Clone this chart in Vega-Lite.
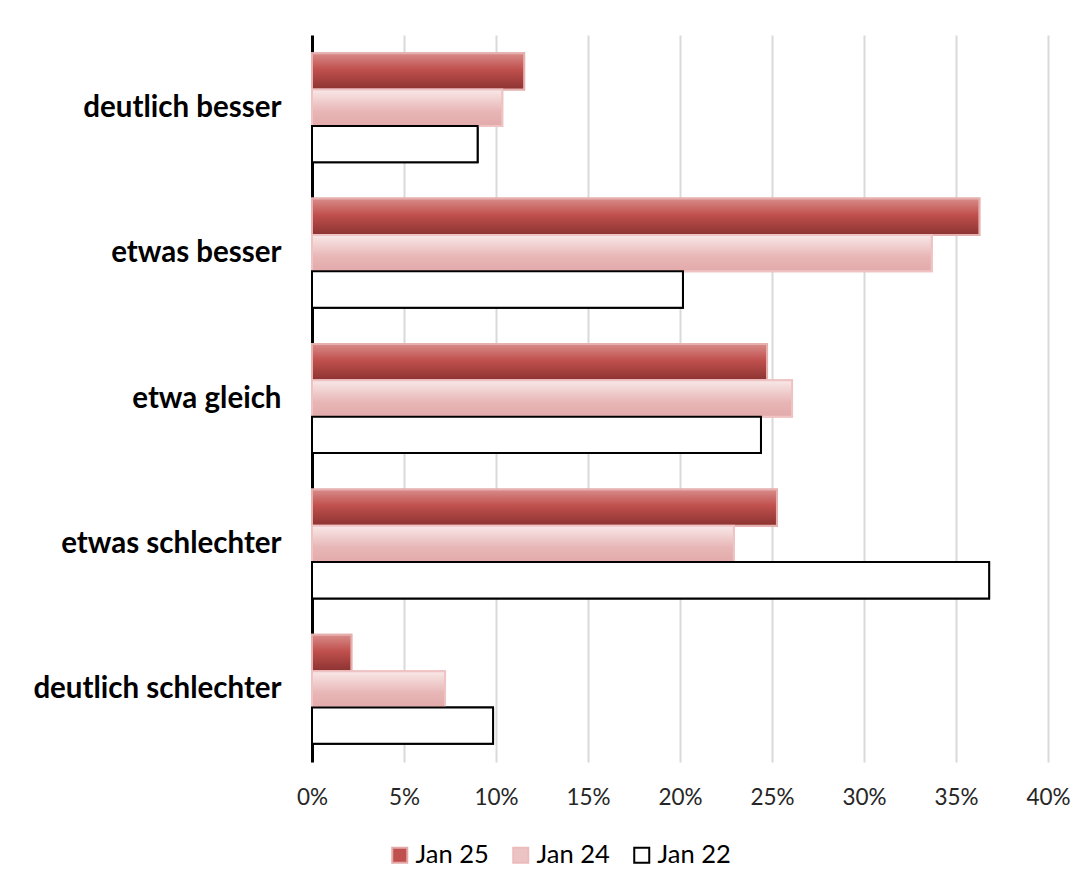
{
  "$schema": "https://vega.github.io/schema/vega-lite/v6.json",
  "width": 736,
  "height": 727,
  "autosize": "none",
  "padding": {"left": 312, "top": 35, "right": 40, "bottom": 128},
  "background": "white",
  "config": {"view": {"stroke": null}, "font": "Lato"},
  "data": {
    "values": [
      {"cat": "deutlich besser", "series": "Jan 25", "pct": 0.1153},
      {"cat": "deutlich besser", "series": "Jan 24", "pct": 0.1034},
      {"cat": "deutlich besser", "series": "Jan 22", "pct": 0.090},
      {"cat": "etwas besser", "series": "Jan 25", "pct": 0.3627},
      {"cat": "etwas besser", "series": "Jan 24", "pct": 0.3368},
      {"cat": "etwas besser", "series": "Jan 22", "pct": 0.2016},
      {"cat": "etwa gleich", "series": "Jan 25", "pct": 0.2473},
      {"cat": "etwa gleich", "series": "Jan 24", "pct": 0.2609},
      {"cat": "etwa gleich", "series": "Jan 22", "pct": 0.244},
      {"cat": "etwas schlechter", "series": "Jan 25", "pct": 0.2527},
      {"cat": "etwas schlechter", "series": "Jan 24", "pct": 0.2293},
      {"cat": "etwas schlechter", "series": "Jan 22", "pct": 0.368},
      {"cat": "deutlich schlechter", "series": "Jan 25", "pct": 0.0214},
      {"cat": "deutlich schlechter", "series": "Jan 24", "pct": 0.0723},
      {"cat": "deutlich schlechter", "series": "Jan 22", "pct": 0.0984}
    ]
  },
  "encoding": {
    "y": {
      "field": "cat",
      "type": "nominal",
      "sort": ["deutlich besser", "etwas besser", "etwa gleich", "etwas schlechter", "deutlich schlechter"],
      "scale": {"paddingInner": 0.25, "paddingOuter": 0.125},
      "axis": {
        "title": null,
        "ticks": false,
        "grid": false,
        "domain": true,
        "domainColor": "#000000",
        "domainWidth": 3,
        "labelFont": "Lato",
        "labelFontWeight": "bold",
        "labelFontSize": 29.5,
        "labelColor": "#000000",
        "labelPadding": 31,
        "labelLimit": 400
      }
    },
    "x": {
      "field": "pct",
      "type": "quantitative",
      "scale": {"domain": [0, 0.4], "nice": false},
      "axis": {
        "title": null,
        "values": [0, 0.05, 0.1, 0.15, 0.2, 0.25, 0.3, 0.35, 0.4],
        "format": ".0%",
        "ticks": false,
        "domain": false,
        "grid": true,
        "gridColor": "#d9d9d9",
        "gridWidth": 2,
        "labelFlush": false,
        "labelOverlap": false,
        "labelFont": "Lato",
        "labelFontSize": 22.5,
        "labelColor": "#262626",
        "labelPadding": 24
      }
    },
    "yOffset": {
      "field": "series",
      "type": "nominal",
      "sort": ["Jan 25", "Jan 24", "Jan 22"],
      "scale": {"paddingInner": 0, "paddingOuter": 0}
    }
  },
  "layer": [
    {
      "mark": {"type": "bar", "strokeWidth": 2},
      "encoding": {
        "fill": {
          "field": "series",
          "type": "nominal",
          "scale": {"domain": ["Jan 25", "Jan 24", "Jan 22"], "range": ["#c0504d", "#edc4c4", "#ffffff"]},
          "legend": {
            "title": null,
            "orient": "none",
            "direction": "horizontal",
            "legendX": 75,
            "legendY": 807,
            "padding": 0,
            "symbolType": "square",
            "symbolSize": 225,
            "symbolStrokeWidth": 2,
            "labelFont": "Lato",
            "labelFontSize": 25.5,
            "labelColor": "#000000",
            "labelOffset": 3,
            "columnPadding": 19,
            "encode": {
              "symbols": {
                "update": {
                  "fill": {"signal": "datum.value === 'Jan 25' ? {gradient: 'linear', x1: 0, y1: 0, x2: 0, y2: 1, stops: [{offset: 0, color: '#d88c8a'}, {offset: 0.45, color: '#c0504d'}, {offset: 1, color: '#8b3331'}]} : datum.value === 'Jan 24' ? {gradient: 'linear', x1: 0, y1: 0, x2: 0, y2: 1, stops: [{offset: 0, color: '#f9e8e8'}, {offset: 1, color: '#e3a9a9'}]} : '#ffffff'"}
                }
              }
            }
          }
        },
        "stroke": {
          "field": "series",
          "type": "nominal",
          "scale": {"domain": ["Jan 25", "Jan 24", "Jan 22"], "range": ["#e3a9a8", "#ecbcbc", "#000000"]},
          "legend": null
        }
      }
    },
    {
      "mark": {"type": "bar", "strokeWidth": 2},
      "encoding": {
        "fill": {
          "condition": [
            {"test": "datum.series === 'Jan 25'", "value": {"gradient": "linear", "x1": 0, "y1": 0, "x2": 0, "y2": 1, "stops": [{"offset": 0, "color": "#d88c8a"}, {"offset": 0.45, "color": "#c0504d"}, {"offset": 1, "color": "#8b3331"}]}},
            {"test": "datum.series === 'Jan 24'", "value": {"gradient": "linear", "x1": 0, "y1": 0, "x2": 0, "y2": 1, "stops": [{"offset": 0, "color": "#f9e8e8"}, {"offset": 0.6, "color": "#e8b6b6"}, {"offset": 1, "color": "#e3aaaa"}]}}
          ],
          "value": "#ffffff"
        },
        "stroke": {
          "condition": [
            {"test": "datum.series === 'Jan 25'", "value": "#e6b0af"},
            {"test": "datum.series === 'Jan 24'", "value": "#efc3c3"}
          ],
          "value": "#000000"
        }
      }
    }
  ]
}
